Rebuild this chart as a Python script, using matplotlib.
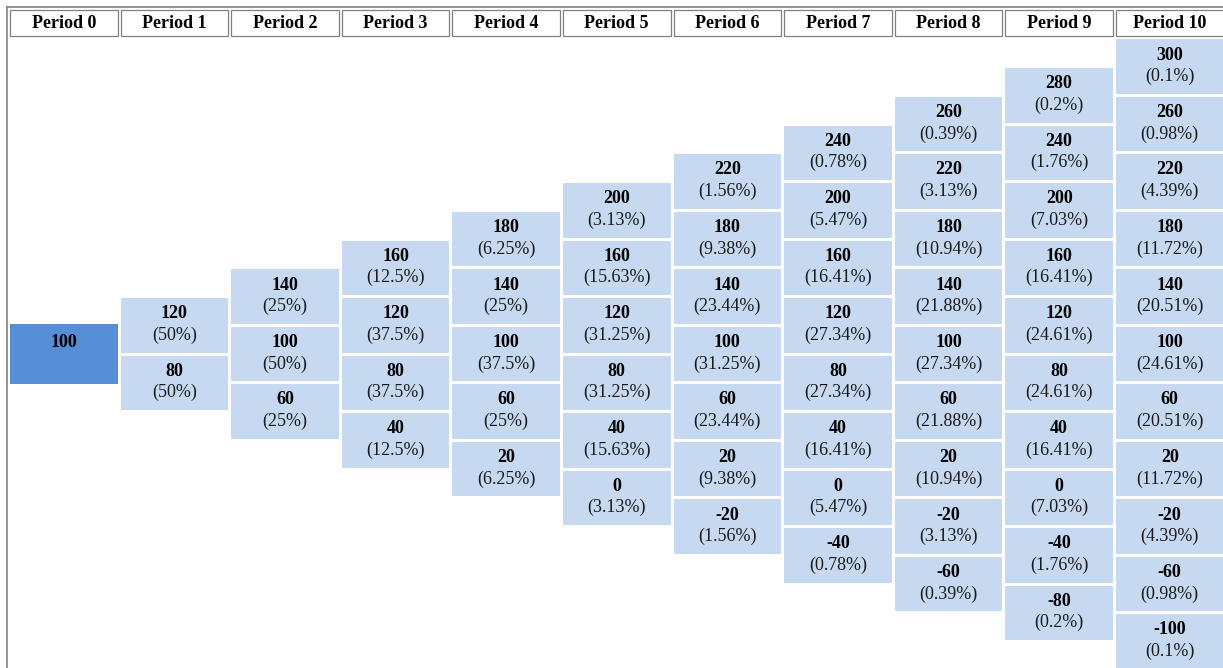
import matplotlib
matplotlib.use('Agg')
import matplotlib.pyplot as plt
from matplotlib.patches import Rectangle

plt.rcParams['font.family'] = ['Liberation Serif', 'DejaVu Serif']

# data: node values and probability labels per period (top node first)
periods = ['Period %d' % i for i in range(11)]
node_values = [
    [100],
    [120, 80],
    [140, 100, 60],
    [160, 120, 80, 40],
    [180, 140, 100, 60, 20],
    [200, 160, 120, 80, 40, 0],
    [220, 180, 140, 100, 60, 20, -20],
    [240, 200, 160, 120, 80, 40, 0, -40],
    [260, 220, 180, 140, 100, 60, 20, -20, -60],
    [280, 240, 200, 160, 120, 80, 40, 0, -40, -80],
    [300, 260, 220, 180, 140, 100, 60, 20, -20, -60, -100],
]
node_probs = [
    [None],
    ['50%', '50%'],
    ['25%', '50%', '25%'],
    ['12.5%', '37.5%', '37.5%', '12.5%'],
    ['6.25%', '25%', '37.5%', '25%', '6.25%'],
    ['3.13%', '15.63%', '31.25%', '31.25%', '15.63%', '3.13%'],
    ['1.56%', '9.38%', '23.44%', '31.25%', '23.44%', '9.38%', '1.56%'],
    ['0.78%', '5.47%', '16.41%', '27.34%', '27.34%', '16.41%', '5.47%', '0.78%'],
    ['0.39%', '3.13%', '10.94%', '21.88%', '27.34%', '21.88%', '10.94%', '3.13%', '0.39%'],
    ['0.2%', '1.76%', '7.03%', '16.41%', '24.61%', '24.61%', '16.41%', '7.03%', '1.76%', '0.2%'],
    ['0.1%', '0.98%', '4.39%', '11.72%', '20.51%', '24.61%', '20.51%', '11.72%', '4.39%', '0.98%', '0.1%'],
]

# layout in pixels
W, H = 1223, 668
col_x0, col_pitch = 10, 110.6
cell_w = 107.5
row_pitch, cell_h = 57.5, 54.5
mid_y = 354
light = '#C6D9F1'
dark = '#558ED5'
grid = '#808080'

fig = plt.figure(figsize=(W / 100, H / 100), dpi=100)
ax = fig.add_axes([0, 0, 1, 1])
ax.set_xlim(0, W)
ax.set_ylim(H, 0)
ax.axis('off')

# outer table border
ax.plot([7, W], [7, 7], color=grid, lw=1.2)
ax.plot([7, 7], [7, H], color=grid, lw=1.2)

for k, name in enumerate(periods):
    x = col_x0 + k * col_pitch
    ax.add_patch(Rectangle((x, 10), cell_w, 26, facecolor='white',
                           edgecolor=grid, lw=0.9))
    ax.text(x + cell_w / 2, 23.5, name, ha='center', va='center',
            fontsize=13, fontweight='bold', color='black')

    n = len(node_values[k])
    for j, (v, p) in enumerate(zip(node_values[k], node_probs[k])):
        cy = mid_y + (j - (n - 1) / 2) * row_pitch
        if k == 0:
            h, fc = 60, dark
        else:
            h, fc = cell_h, light
        ax.add_patch(Rectangle((x, cy - h / 2), cell_w, h, facecolor=fc,
                               edgecolor='none'))
        ax.text(x + cell_w / 2, cy - 11.5, str(v), ha='center', va='center',
                fontsize=13, fontweight='bold', color='black')
        if p is not None:
            ax.text(x + cell_w / 2, cy + 10, '(%s)' % p, ha='center',
                    va='center', fontsize=13, color='#1a1a1a')

fig.savefig('out.png', dpi=100, facecolor='white')
